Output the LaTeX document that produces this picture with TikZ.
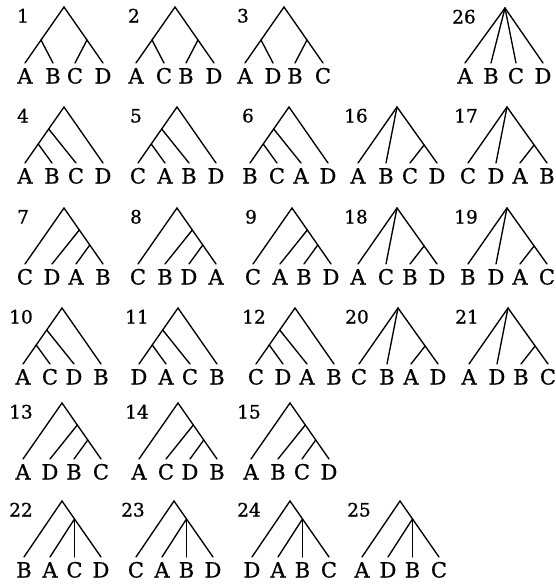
\documentclass[tikz,border=0pt]{standalone}
\usepackage{fontspec}
\setmainfont{DejaVu Serif}[FakeBold=0.8]
\tikzset{
  branch/.style={line width=1.35pt, line cap=round, line join=miter},
  leaflab/.style={anchor=base, inner sep=0pt, font=\fontsize{21}{23}\selectfont},
  treenum/.style={anchor=base, inner sep=0pt, font=\fontsize{18.5}{20}\selectfont},
}
% labels: #1 id, #2..#5 leaf texts
\newcommand\mylabs[5]{%
  \node[treenum] (n#1) at (-41,15.5) {#1};
  \path (a#1) ++(0,20.5) node[leaflab] (la#1) {#2};
  \path (b#1) ++(0,20.5) node[leaflab] (lb#1) {#3};
  \path (c#1) ++(0,20.5) node[leaflab] (lc#1) {#4};
  \path (d#1) ++(0,20.5) node[leaflab] (ld#1) {#5};
}
% symmetric ((a,b),(c,d))
\newcommand\treeS[7]{%
\begin{scope}[shift={(#2,#3)}]
  \coordinate (r#1) at (0,0);
  \coordinate (p#1) at (-23,33);
  \coordinate (q#1) at (23,33);
  \coordinate (a#1) at (-39,56);
  \coordinate (b#1) at (-11,56);
  \coordinate (c#1) at (11,56);
  \coordinate (d#1) at (39,56);
  \draw[branch] (a#1) -- (r#1) -- (d#1);
  \draw[branch] (p#1) -- (b#1);
  \draw[branch] (q#1) -- (c#1);
  \mylabs{#1}{#4}{#5}{#6}{#7}
\end{scope}}
% left caterpillar (((a,b),c),d)
\newcommand\treeL[7]{%
\begin{scope}[shift={(#2,#3)}]
  \coordinate (r#1) at (0,0);
  \coordinate (p#1) at (-15.3,22);
  \coordinate (q#1) at (-25.8,37);
  \coordinate (a#1) at (-39,56);
  \coordinate (b#1) at (-12,56);
  \coordinate (c#1) at (12,56);
  \coordinate (d#1) at (39,56);
  \draw[branch] (a#1) -- (r#1) -- (d#1);
  \draw[branch] (q#1) -- (b#1);
  \draw[branch] (p#1) -- (c#1);
  \mylabs{#1}{#4}{#5}{#6}{#7}
\end{scope}}
% right caterpillar (a,(b,(c,d)))
\newcommand\treeR[7]{%
\begin{scope}[shift={(#2,#3)}]
  \coordinate (r#1) at (0,0);
  \coordinate (p#1) at (15.3,22);
  \coordinate (q#1) at (25.8,37);
  \coordinate (a#1) at (-39,56);
  \coordinate (b#1) at (-12,56);
  \coordinate (c#1) at (12,56);
  \coordinate (d#1) at (39,56);
  \draw[branch] (a#1) -- (r#1) -- (d#1);
  \draw[branch] (p#1) -- (b#1);
  \draw[branch] (q#1) -- (c#1);
  \mylabs{#1}{#4}{#5}{#6}{#7}
\end{scope}}
% (a,b,(c,d))
\newcommand\treeP[7]{%
\begin{scope}[shift={(#2,#3)}]
  \coordinate (r#1) at (0,0);
  \coordinate (a#1) at (-39,56);
  \coordinate (b#1) at (-11,56);
  \coordinate (c#1) at (13,56);
  \coordinate (d#1) at (40,56);
  \coordinate (q#1) at (27.1,38);
  \draw[branch] (a#1) -- (r#1) -- (d#1);
  \draw[branch] (r#1) -- (b#1);
  \draw[branch] (q#1) -- (c#1);
  \mylabs{#1}{#4}{#5}{#6}{#7}
\end{scope}}
% (a,(b,c,d))
\newcommand\treeQ[7]{%
\begin{scope}[shift={(#2,#3)}]
  \coordinate (r#1) at (0,0);
  \coordinate (a#1) at (-38,56);
  \coordinate (b#1) at (-12,56);
  \coordinate (c#1) at (12.5,56);
  \coordinate (d#1) at (39,56);
  \coordinate (q#1) at (12.5,17.95);
  \draw[branch] (a#1) -- (r#1) -- (d#1);
  \draw[branch] (q#1) -- (b#1);
  \draw[branch] (q#1) -- (c#1);
  \mylabs{#1}{#4}{#5}{#6}{#7}
\end{scope}}
% star
\newcommand\treeT[7]{%
\begin{scope}[shift={(#2,#3)}]
  \coordinate (r#1) at (0,0);
  \coordinate (a#1) at (-40,55);
  \coordinate (b#1) at (-14,55);
  \coordinate (c#1) at (11,55);
  \coordinate (d#1) at (38,55);
  \draw[branch] (a#1) -- (r#1) -- (d#1);
  \draw[branch] (r#1) -- (b#1);
  \draw[branch] (r#1) -- (c#1);
  \mylabs{#1}{#4}{#5}{#6}{#7}
\end{scope}}
\begin{document}
\begin{tikzpicture}[x=1pt,y=-1pt]
\useasboundingbox (0,0) rectangle (556,584);
\fill[white] (0,0) rectangle (556,584);
\treeS{1}{64}{7}{A}{B}{C}{D}
\treeS{2}{175}{7}{A}{C}{B}{D}
\treeS{3}{284}{7}{A}{D}{B}{C}
\treeT{26}{505}{8}{A}{B}{C}{D}
\treeL{4}{64}{107}{A}{B}{C}{D}
\treeL{5}{177}{107}{C}{A}{B}{D}
\treeL{6}{289}{107}{B}{C}{A}{D}
\treeP{16}{397}{107}{A}{B}{C}{D}
\treeP{17}{507}{107}{C}{D}{A}{B}
\treeR{7}{64}{208}{C}{D}{A}{B}
\treeR{8}{177}{208}{C}{B}{D}{A}
\treeR{9}{292}{208}{C}{A}{B}{D}
\treeP{18}{397}{208}{A}{C}{B}{D}
\treeP{19}{507}{208}{B}{D}{A}{C}
\treeL{10}{62}{308}{A}{C}{D}{B}
\treeL{11}{178}{308}{D}{A}{C}{B}
\treeL{12}{295}{308}{C}{D}{A}{B}
\treeP{20}{398}{308}{C}{B}{A}{D}
\treeP{21}{508}{308}{A}{D}{B}{C}
\treeR{13}{62}{403}{A}{D}{B}{C}
\treeR{14}{178}{403}{A}{C}{D}{B}
\treeR{15}{290}{403}{A}{B}{C}{D}
\treeQ{22}{62}{501}{B}{A}{C}{D}
\treeQ{23}{174}{501}{C}{A}{B}{D}
\treeQ{24}{290}{501}{D}{A}{B}{C}
\treeQ{25}{400}{501}{A}{D}{B}{C}
\end{tikzpicture}
\end{document}
